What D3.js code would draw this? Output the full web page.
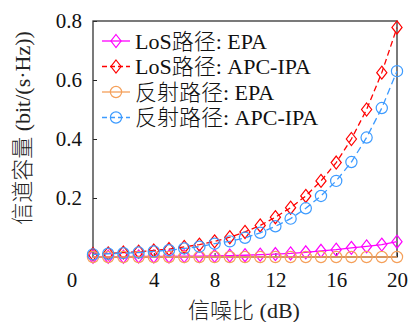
<!DOCTYPE html>
<html><head><meta charset="utf-8">
<script src="https://cdn.jsdelivr.net/npm/d3@7"></script>
<style>body{margin:0;background:#fff;}svg{display:block;}</style>
</head><body>
<svg id="c" width="408" height="322"></svg>
<script>
const snr = [0,1,2,3,4,5,6,7,8,9,10,11,12,13,14,15,16,17,18,19,20];
const losEPA = [0.001,0.001,0.001,0.002,0.002,0.002,0.003,0.003,0.004,0.005,0.006,0.008,0.010,0.012,0.016,0.021,0.025,0.031,0.036,0.042,0.052];
const losAPC = [0.010,0.012,0.015,0.018,0.022,0.027,0.034,0.042,0.053,0.067,0.085,0.107,0.135,0.167,0.207,0.258,0.320,0.400,0.500,0.625,0.778];
const refEPA = [0,0,0,0,0,0,0,0,0,0,0,0,0,0,0,0,0,0,0,0,0];
const refAPC = [0.009,0.011,0.013,0.015,0.019,0.023,0.029,0.035,0.045,0.053,0.065,0.082,0.104,0.130,0.165,0.207,0.258,0.322,0.405,0.505,0.630];
const xTicks = [4,8,12,16,20];
const yTicks = [0.2,0.4,0.6,0.8];
const seriesNames = ["LoS路径: EPA","LoS路径: APC-IPA","反射路径: EPA","反射路径: APC-IPA"];

const series = [
  {name: seriesNames[0], values: losEPA, color: "#ff00ff", dash: null, marker: "diamond"},
  {name: seriesNames[1], values: losAPC, color: "#ff0000", dash: "6,3.5", marker: "diamond"},
  {name: seriesNames[2], values: refEPA, color: "#f5a05a", dash: null, marker: "circle"},
  {name: seriesNames[3], values: refAPC, color: "#3d9bff", dash: "7,4", marker: "circle"}
];

const font = "'Liberation Serif','Noto Sans CJK SC',serif";
const svg = d3.select("#c");
const L = 93, R = 397, T = 21, B = 257;
const x = d3.scaleLinear().domain([0,20]).range([L,R]);
const y = d3.scaleLinear().domain([0,0.8]).range([B,T]);

const gx = svg.append("g").attr("transform",`translate(0,${B})`)
  .call(d3.axisBottom(x).tickValues(xTicks).tickSize(-4).tickPadding(10).tickFormat(d3.format("d")));
const gy = svg.append("g").attr("transform",`translate(${L},0)`)
  .call(d3.axisLeft(y).tickValues(yTicks).tickSize(-4).tickPadding(11).tickFormat(d3.format(".1f")));
[gx,gy].forEach(g=>{
  g.select(".domain").remove();
  g.selectAll(".tick line").attr("stroke","#222").attr("stroke-width",1);
  g.selectAll(".tick text").attr("font-family",font).attr("font-size",21).attr("fill","#111");
});
gx.selectAll(".tick text").attr("dy","0.95em");
svg.append("text").attr("x",72).attr("y",B+10).attr("dy","0.95em").attr("text-anchor","middle")
  .attr("font-family",font).attr("font-size",21).attr("fill","#111").text("0");

svg.append("rect").attr("x",L).attr("y",T).attr("width",R-L).attr("height",B-T)
  .attr("fill","none").attr("stroke","#333").attr("stroke-width",1.3);

const line = d3.line().x((d,i)=>x(snr[i])).y(d=>y(d));
const diamond = (cx,cy,r)=>`M${cx},${cy-r}L${cx+r*0.78},${cy}L${cx},${cy+r}L${cx-r*0.78},${cy}Z`;

function drawMarkers(g, s, pts){
  if(s.marker==="diamond"){
    g.selectAll("path.m").data(pts).join("path").attr("class","m")
      .attr("d",p=>diamond(p[0],p[1],6.5)).attr("fill","none").attr("stroke",s.color).attr("stroke-width",1.2);
  } else {
    g.selectAll("circle.m").data(pts).join("circle").attr("class","m")
      .attr("cx",p=>p[0]).attr("cy",p=>p[1]).attr("r",5.6).attr("fill","none").attr("stroke",s.color).attr("stroke-width",1.2);
  }
}

series.forEach(s=>{
  const g = svg.append("g");
  g.append("path").attr("d",line(s.values)).attr("fill","none").attr("stroke",s.color)
    .attr("stroke-width",1.3).attr("stroke-dasharray",s.dash);
  drawMarkers(g, s, s.values.map((v,i)=>[x(snr[i]),y(v)]));
});

const lg = svg.append("g");
series.forEach((s,i)=>{
  const yy = 41 + i*25.5;
  const g = lg.append("g");
  g.append("line").attr("x1",102).attr("x2",130).attr("y1",yy).attr("y2",yy)
    .attr("stroke",s.color).attr("stroke-width",1.3).attr("stroke-dasharray",s.dash ? "5,3" : null);
  drawMarkers(g, s, [[116,yy]]);
  g.append("text").attr("x",135).attr("y",yy).attr("dy","0.35em")
    .attr("font-family",font).attr("font-size",22).attr("font-weight",300).attr("fill","#111").text(s.name);
});

svg.append("text").attr("x",244).attr("y",310).attr("dy","0.35em").attr("text-anchor","middle")
  .attr("font-family",font).attr("font-size",22).attr("font-weight",300).attr("fill","#222").text("信噪比 (dB)");
svg.append("text").attr("transform","translate(22,128) rotate(-90)").attr("dy","0.35em").attr("text-anchor","middle")
  .attr("font-family",font).attr("font-size",22).attr("font-weight",300).attr("fill","#222").text("信道容量 (bit/(s·Hz))");
</script>
</body></html>
